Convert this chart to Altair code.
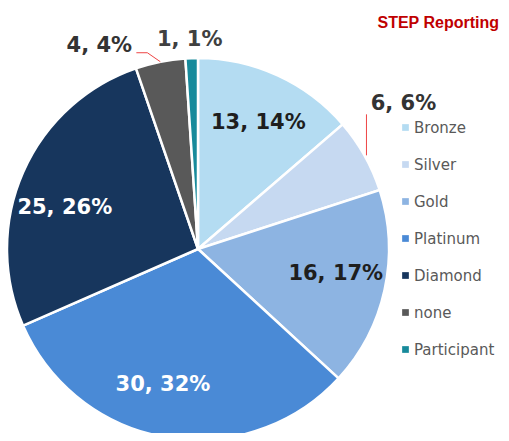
import math
import altair as alt
import pandas as pd

categories = ["Bronze", "Silver", "Gold", "Platinum", "Diamond", "none", "Participant"]
counts = [13, 6, 16, 30, 25, 4, 1]
colors = ["#b4dcf2", "#c6d9f1", "#8db4e2", "#4a8ad6", "#17365d", "#595959", "#178a9b"]
title_text = "STEP Reporting"

total = sum(counts)
rows = []
cum = 0
for i, (c, n) in enumerate(zip(categories, counts)):
    rows.append(dict(category=c, count=n, order=i, mid=cum + n / 2,
                     label=f"{n}, {round(n / total * 100)}%"))
    cum += n
df = pd.DataFrame(rows)

CX, CY, R = 190, 241, 191
FONT = "DejaVu Sans"
theta_scale = alt.Scale(domain=[0, total])


def edge(cat):
    m = df.loc[df.category == cat, "mid"].iloc[0]
    a = m / total * 2 * math.pi
    return CX + R * math.sin(a), CY - R * math.cos(a)


sx, sy = edge("Silver")
nx, ny = edge("none")
leaders = pd.DataFrame([
    dict(x=sx + 2, y=sy, x2=sx + 2, y2=sy - 41),
    dict(x=nx, y=ny, x2=nx - 13, y2=ny - 9),
    dict(x=nx - 13, y=ny - 9, x2=nx - 24, y2=ny - 9),
])

base = alt.Chart(df)

arc = base.mark_arc(outerRadius=R, stroke="white", strokeWidth=2.5).encode(
    theta=alt.Theta("count:Q", stack=True, scale=theta_scale),
    order=alt.Order("order:Q"),
    color=alt.Color(
        "category:N",
        scale=alt.Scale(domain=categories, range=colors),
        legend=alt.Legend(
            title=None, orient="none", legendX=390, legendY=112,
            symbolType="square", symbolSize=45, symbolStrokeWidth=0,
            labelFont=FONT, labelFontSize=15, labelColor="#595959",
            rowPadding=21, padding=0, labelOffset=1,
        ),
    ),
    x=alt.value(CX),
    y=alt.value(CY),
)


def label_layer(cat, color, radius, dx=0, dy=0):
    return base.transform_filter(
        alt.FieldEqualPredicate(field="category", equal=cat)
    ).mark_text(
        radius=radius, color=color, font=FONT, fontWeight="bold", fontSize=21,
        dx=dx, dy=dy, align="center", baseline="middle",
    ).encode(
        theta=alt.Theta("mid:Q", stack=False, scale=theta_scale),
        text="label:N",
        x=alt.value(CX),
        y=alt.value(CY),
    )


labels = [
    label_layer("Bronze", "#1e1e1e", 140, dx=2, dy=1),
    label_layer("Gold", "#1e1e1e", 140, dx=1, dy=-5),
    label_layer("Platinum", "white", 140, dx=-12, dy=-2),
    label_layer("Diamond", "white", 140, dx=-5, dy=15),
    label_layer("Silver", "#333333", R, dx=39, dy=-51),
    label_layer("none", "#333333", R, dx=-61, dy=-16),
    label_layer("Participant", "#404040", R, dx=-2, dy=-18),
]

lead = alt.Chart(leaders).mark_rule(color="#ee4444", strokeWidth=1).encode(
    x=alt.X("x:Q", scale=None), y=alt.Y("y:Q", scale=None),
    x2="x2:Q", y2="y2:Q",
)

title = alt.Chart(pd.DataFrame({"t": [title_text]})).mark_text(
    font="Liberation Sans", fontWeight="bold", fontSize=16, color="#c00000",
    align="right", baseline="alphabetic",
).encode(text="t:N", x=alt.value(491), y=alt.value(20))

chart = alt.layer(arc, lead, *labels, title).properties(
    width=493, height=425, padding=0, autosize=alt.AutoSizeParams(type="none"),
).configure_view(stroke=None)

chart.save("out.html", embed_options={"renderer": "svg", "actions": False})
